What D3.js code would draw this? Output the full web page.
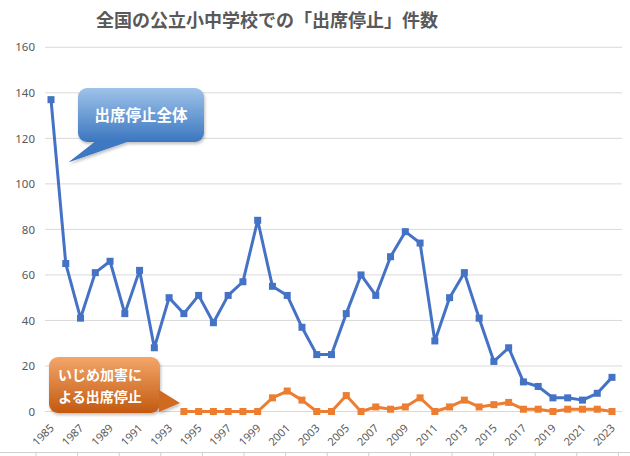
<!DOCTYPE html>
<html><head><meta charset="utf-8">
<script src="https://cdn.jsdelivr.net/npm/d3@7"></script>
<style>
html,body{margin:0;padding:0;background:#fff;}
svg{display:block;font-family:"Noto Sans CJK JP","Noto Sans",sans-serif;}
</style></head>
<body><svg id="c" width="630" height="456"></svg>
<script>
const years = d3.range(1985, 2024);
const totalValues = [137,65,41,61,66,43,62,28,50,43,51,39,51,57,84,55,51,37,25,25,43,60,51,68,79,74,31,50,61,41,22,28,13,11,6,6,5,8,15];
const bullyYears = d3.range(1994, 2024);
const bullyValues = [0,0,0,0,0,0,6,9,5,0,0,7,0,2,1,2,6,0,2,5,2,3,4,1,1,0,1,1,1,0];
const yTicks = [0,20,40,60,80,100,120,140,160];
const xTickYears = d3.range(1985, 2024, 2);
const title = "全国の公立小中学校での「出席停止」件数";
const totalLabel = "出席停止全体";
const bullyLabel = ["いじめ加害に", "よる出席停止"];

const svg = d3.select("#c");
const x = d3.scaleLinear().domain([1985, 2023]).range([51, 612]);
const y = d3.scaleLinear().domain([0, 160]).range([411.5, 47.3]);

const defs = svg.append("defs");
const gb = defs.append("linearGradient").attr("id","gBlue").attr("x1",0).attr("y1",0).attr("x2",0).attr("y2",1);
gb.append("stop").attr("offset","0%").attr("stop-color","#9fc3ea");
gb.append("stop").attr("offset","100%").attr("stop-color","#3a76bf");
const go = defs.append("linearGradient").attr("id","gOrange").attr("x1",0).attr("y1",0).attr("x2",0).attr("y2",1);
go.append("stop").attr("offset","0%").attr("stop-color","#f3a66a");
go.append("stop").attr("offset","100%").attr("stop-color","#c3590f");
const sh = defs.append("filter").attr("id","sh").attr("x","-20%").attr("y","-20%").attr("width","140%").attr("height","140%");
sh.append("feDropShadow").attr("dx",1).attr("dy",2).attr("stdDeviation",1.5).attr("flood-color","#000").attr("flood-opacity",0.25);

// title
svg.append("text").attr("x", 267).attr("y", 27).attr("text-anchor","middle")
  .attr("font-size", 18).attr("font-weight","bold").attr("fill","#595959").text(title);

// gridlines
svg.append("g").selectAll("line").data(yTicks).join("line")
  .attr("x1", 45).attr("x2", 622).attr("y1", d => y(d)).attr("y2", d => y(d))
  .attr("stroke", "#d9d9d9").attr("stroke-width", 1);

// y axis
const ya = svg.append("g").attr("transform","translate(35,0)")
  .call(d3.axisLeft(y).tickValues(yTicks).tickSize(0).tickPadding(0));
ya.select(".domain").remove();
ya.selectAll("text").attr("font-size", 11.5).attr("fill", "#595959")
  .attr("font-family","'Noto Sans','DejaVu Sans',sans-serif");

// x axis labels
const xa = svg.append("g");
xa.selectAll("text").data(xTickYears).join("text")
  .attr("transform", d => `translate(${x(d)+1},${426}) rotate(-45)`)
  .attr("text-anchor","end").attr("dy","0.35em")
  .attr("font-size", 11).attr("fill","#595959")
  .attr("font-family","'Noto Sans','DejaVu Sans',sans-serif")
  .text(d => d);

// bottom cropped table line
svg.append("line").attr("x1",0).attr("x2",630).attr("y1",452.5).attr("y2",452.5).attr("stroke","#d0d0d0");
const bt = d3.range(0, 15).map(i => 36 + i*41.6);
svg.append("g").selectAll("line").data(bt).join("line")
  .attr("x1", d=>d).attr("x2", d=>d).attr("y1",452.5).attr("y2",456).attr("stroke","#d0d0d0");

// lines
const line = d3.line().x(d => x(d[0])).y(d => y(d[1]));
const totalData = years.map((yr,i)=>[yr, totalValues[i]]);
const bullyData = bullyYears.map((yr,i)=>[yr, bullyValues[i]]);

function series(data, color){
  svg.append("path").datum(data).attr("d", line).attr("fill","none")
    .attr("stroke", color).attr("stroke-width", 3).attr("stroke-linejoin","round");
  svg.append("g").selectAll("rect").data(data).join("rect")
    .attr("x", d => x(d[0]) - 3.5).attr("y", d => y(d[1]) - 3.5)
    .attr("width", 7).attr("height", 7).attr("fill", color);
}
series(totalData, "#4472c4");
series(bullyData, "#ed7d31");

// blue callout
const bc = svg.append("g").attr("filter","url(#sh)");
bc.append("path").attr("d", "M97,140 L69,162 L131,140 Z").attr("fill","#3c78c0");
bc.append("rect").attr("x",78).attr("y",88).attr("width",126).attr("height",54).attr("rx",9).attr("fill","url(#gBlue)");
bc.append("path").attr("d", "M98,141 L69,162 L130,141 Z").attr("fill","#3c78c0");
svg.append("text").attr("x",141).attr("y",120.5).attr("text-anchor","middle")
  .attr("font-size",15.5).attr("font-weight","bold").attr("fill","#fff").text(totalLabel);

// orange callout
const oc = svg.append("g").attr("filter","url(#sh)");
oc.append("rect").attr("x",49).attr("y",357).attr("width",111).attr("height",56).attr("rx",9).attr("fill","url(#gOrange)");
oc.append("path").attr("d", "M159,390 L180,403 L159,412 Z").attr("fill","#d06a22");
svg.append("g").selectAll("text").data(bullyLabel).join("text")
  .attr("x",100).attr("y",(d,i)=>380 + i*22).attr("text-anchor","middle")
  .attr("font-size",14).attr("font-weight","bold").attr("fill","#fff").text(d=>d);
</script>
</body></html>
